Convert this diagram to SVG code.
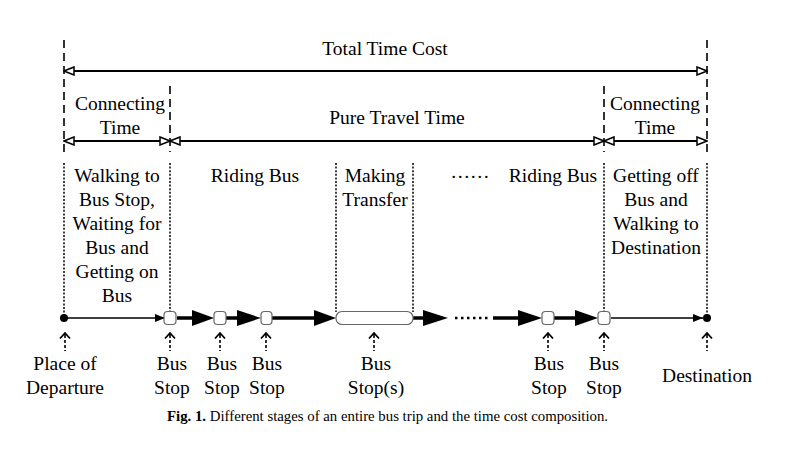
<svg xmlns="http://www.w3.org/2000/svg" width="804" height="451" viewBox="0 0 804 451">
<style>
text{font-family:"Liberation Serif","Times New Roman",serif;font-size:19.5px;fill:#000;text-anchor:middle}
.cap{font-size:14.8px;text-anchor:start}
.dash{stroke:#000;stroke-width:1.6;stroke-dasharray:8 5;fill:none}
.dot{stroke:#000;stroke-width:1.5;stroke-dasharray:2 1.6;fill:none}
.dim{stroke:#000;stroke-width:1.8;fill:none;marker-start:url(#openS);marker-end:url(#openE)}
.thin{stroke:#000;stroke-width:1.3;fill:none;marker-end:url(#smallA)}
.thick{stroke:#000;stroke-width:3.5;fill:none}
.stop{fill:#fff;stroke:#666;stroke-width:1.2}
.up{stroke:#000;stroke-width:1.6;stroke-dasharray:3 2;fill:none}
.chev{stroke:#000;stroke-width:1.8;fill:none}
</style>
<defs>
<marker id="openE" viewBox="0 0 12 10" refX="11" refY="5" markerWidth="12" markerHeight="10" markerUnits="userSpaceOnUse" orient="auto">
<path d="M1,1 L11,5 L1,9 Z" fill="#fff" stroke="#000" stroke-width="1.5"/>
</marker>
<marker id="openS" viewBox="0 0 12 10" refX="1" refY="5" markerWidth="12" markerHeight="10" markerUnits="userSpaceOnUse" orient="auto">
<path d="M11,1 L1,5 L11,9 Z" fill="#fff" stroke="#000" stroke-width="1.5"/>
</marker>
<marker id="smallA" viewBox="0 0 10 8" refX="10" refY="4" markerWidth="10" markerHeight="8" markerUnits="userSpaceOnUse" orient="auto">
<path d="M0,0 L10,4 L0,8 Z" fill="#000"/>
</marker>
</defs>
<rect width="804" height="451" fill="#fff"/>

<g id="boundaries">
<line class="dash" x1="64" y1="40" x2="64" y2="152"/>
<line class="dash" x1="707" y1="40" x2="707" y2="152"/>
<line class="dash" x1="170" y1="86" x2="170" y2="152"/>
<line class="dash" x1="604" y1="86" x2="604" y2="152"/>
<line class="dot" x1="64" y1="163" x2="64" y2="318"/>
<line class="dot" x1="707" y1="163" x2="707" y2="318"/>
<line class="dot" x1="170" y1="163" x2="170" y2="312"/>
<line class="dot" x1="604" y1="163" x2="604" y2="312"/>
<line class="dot" x1="336" y1="163" x2="336" y2="312"/>
<line class="dot" x1="413" y1="163" x2="413" y2="312"/>
</g>

<g id="dimensions">
<line class="dim" x1="64" y1="71" x2="707" y2="71"/>
<line class="dim" x1="64" y1="141" x2="170" y2="141"/>
<line class="dim" x1="170" y1="141" x2="604" y2="141"/>
<line class="dim" x1="604" y1="141" x2="707" y2="141"/>
</g>

<g id="labels-top">
<text x="385" y="55">Total Time Cost</text>
<text x="120" y="110">Connecting</text>
<text x="120" y="134">Time</text>
<text x="397" y="124">Pure Travel Time</text>
<text x="655" y="110">Connecting</text>
<text x="655" y="134">Time</text>
</g>

<g id="stage-walk">
<text x="117" y="182">Walking to</text>
<text x="117" y="206">Bus Stop,</text>
<text x="117" y="230">Waiting for</text>
<text x="117" y="254">Bus and</text>
<text x="117" y="278">Getting on</text>
<text x="117" y="302">Bus</text>
</g>
<g id="stage-ride1"><text x="255" y="182">Riding Bus</text></g>
<g id="stage-transfer">
<text x="375" y="182">Making</text>
<text x="375" y="206">Transfer</text>
</g>
<g id="stage-more"><text x="470" y="178">……</text></g>
<g id="stage-ride2"><text x="553" y="182">Riding Bus</text></g>
<g id="stage-getoff">
<text x="656" y="182">Getting off</text>
<text x="656" y="206">Bus and</text>
<text x="656" y="230">Walking to</text>
<text x="656" y="254">Destination</text>
</g>

<g id="timeline">
<line class="thin" x1="64" y1="318" x2="165" y2="318"/>
<line class="thin" x1="611" y1="318" x2="703" y2="318"/>
<path class="thick" d="M177,318 H195 M226,318 H240 M272,318 H317 M413,318 H426 M493,318 H521 M554,318 H578"/>
<path d="M192,310 L214,318 L192,326 Z M237,310 L261,318 L237,326 Z M314,310 L336,318 L314,326 Z M423,310 L448,318 L423,326 Z M518,310 L542,318 L518,326 Z M575,310 L598,318 L575,326 Z" fill="#000"/>
<line x1="455" y1="318" x2="490" y2="318" stroke="#000" stroke-width="2.5" stroke-dasharray="2.5 3.5"/>
</g>

<g id="departure"><circle cx="64" cy="318" r="4" fill="#000"/></g>
<g id="destination"><circle cx="707" cy="318" r="4" fill="#000"/></g>
<g id="stop1"><rect class="stop" x="164" y="311.5" width="12" height="13" rx="3.5"/></g>
<g id="stop2"><rect class="stop" x="214" y="311.5" width="12" height="13" rx="3.5"/></g>
<g id="stop3"><rect class="stop" x="261" y="311.5" width="11" height="13" rx="3.5"/></g>
<g id="transfer-stops"><rect class="stop" x="336" y="311.5" width="77" height="13" rx="6"/></g>
<g id="stop4"><rect class="stop" x="542" y="311.5" width="12" height="13" rx="3.5"/></g>
<g id="stop5"><rect class="stop" x="598" y="311.5" width="12" height="13" rx="3.5"/></g>

<g id="pointers">
<path class="up" d="M65,335 V351 M170,335 V351 M220,335 V351 M266,335 V351 M374,335 V351 M548,335 V351 M604,335 V351 M707,335 V351"/>
<path class="chev" d="M60,338.5 L65,333 L70,338.5 M165,338.5 L170,333 L175,338.5 M215,338.5 L220,333 L225,338.5 M261,338.5 L266,333 L271,338.5 M369,338.5 L374,333 L379,338.5 M543,338.5 L548,333 L553,338.5 M599,338.5 L604,333 L609,338.5 M702,338.5 L707,333 L712,338.5"/>
</g>

<g id="labels-bottom">
<text x="65" y="370">Place of</text>
<text x="65" y="394">Departure</text>
<text x="172" y="370">Bus</text>
<text x="172" y="394">Stop</text>
<text x="222" y="370">Bus</text>
<text x="222" y="394">Stop</text>
<text x="267" y="370">Bus</text>
<text x="267" y="394">Stop</text>
<text x="376" y="370">Bus</text>
<text x="376" y="394">Stop(s)</text>
<text x="549" y="370">Bus</text>
<text x="549" y="394">Stop</text>
<text x="604" y="370">Bus</text>
<text x="604" y="394">Stop</text>
<text x="707" y="382">Destination</text>
</g>

<text class="cap" x="167" y="421"><tspan font-weight="bold">Fig. 1.</tspan> Different stages of an entire bus trip and the time cost composition.</text>
</svg>
